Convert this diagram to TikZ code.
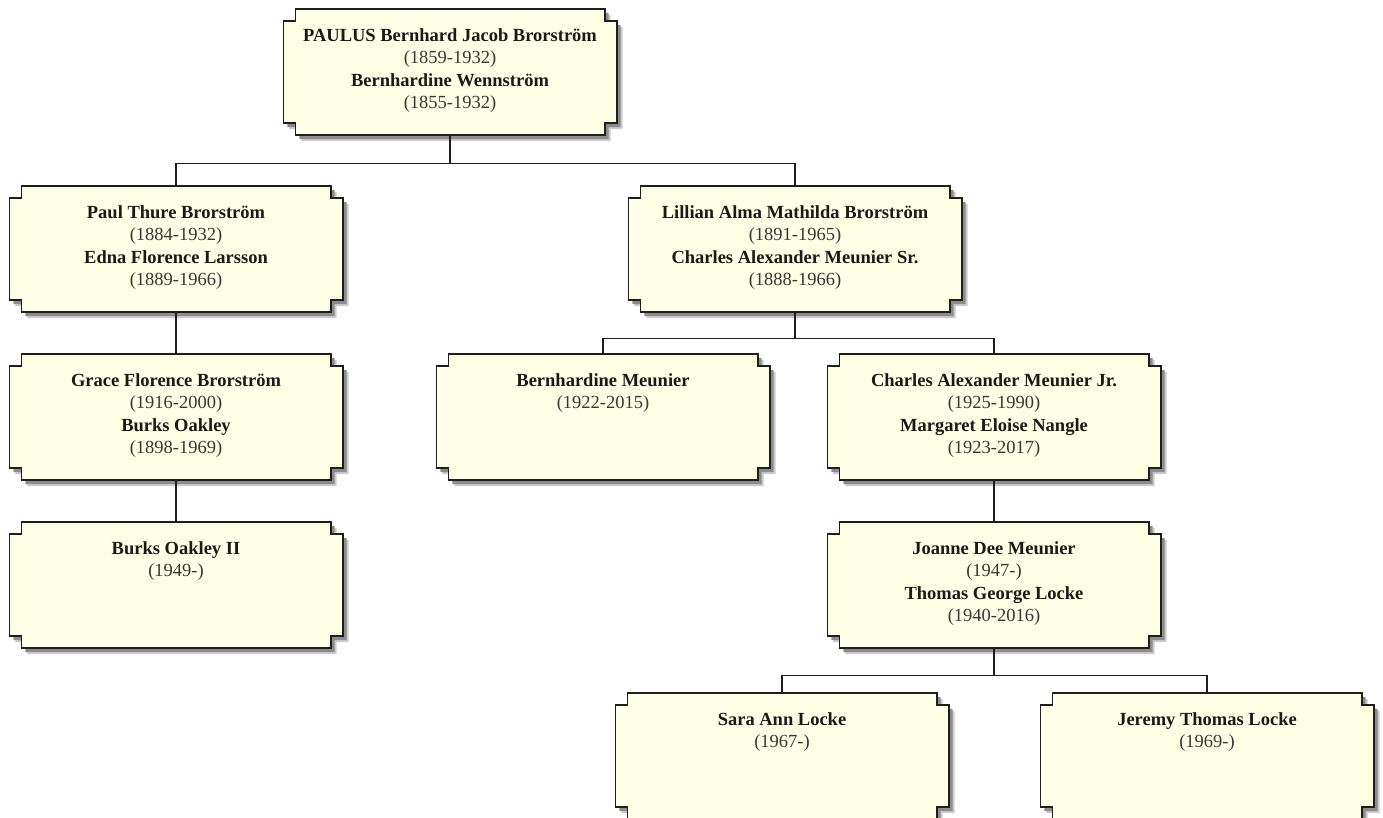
\documentclass[tikz,border=0pt]{standalone}
\usepackage{fontspec}
\setmainfont{Liberation Serif}
\usetikzlibrary{calc,backgrounds}
\definecolor{boxfill}{RGB}{255,255,230}
\definecolor{boxline}{RGB}{30,30,30}
\definecolor{namec}{RGB}{25,25,25}
\definecolor{datec}{RGB}{55,55,55}
\tikzset{
  person/.style={rectangle, inner sep=0pt, minimum width=333pt, minimum height=126pt},
  link/.style={draw=boxline, line width=1.3pt},
}
\newcommand\nm[1]{{\bfseries\color{namec}#1}}
\newcommand\dt[1]{{\color{datec}#1}}
\newcommand\ptext[1]{\parbox[c][126pt][t]{330pt}{\centering\fontsize{18.5}{22.5}\selectfont\rule{0pt}{32pt}#1}}
\newcommand\notchfill[3]{%
  \path[#3] let \p1=(#1.north west), \p2=(#1.south east) in
  ({\x1+12pt+#2},{\y1-#2}) -- ({\x2-12pt+#2},{\y1-#2}) -- ({\x2-12pt+#2},{\y1-12pt-#2}) --
  ({\x2+#2},{\y1-12pt-#2}) -- ({\x2+#2},{\y2+12pt-#2}) -- ({\x2-12pt+#2},{\y2+12pt-#2}) --
  ({\x2-12pt+#2},{\y2-#2}) -- ({\x1+12pt+#2},{\y2-#2}) -- ({\x1+12pt+#2},{\y2+12pt-#2}) --
  ({\x1+#2},{\y2+12pt-#2}) -- ({\x1+#2},{\y1-12pt-#2}) -- ({\x1+12pt+#2},{\y1-12pt-#2}) -- cycle;}
\begin{document}
\begin{tikzpicture}[x=1pt,y=-1pt]
\useasboundingbox (0,0) rectangle (1383,817);
\node[person] (top) at (450,72) {\ptext{\nm{PAULUS Bernhard Jacob Brorström}\\\dt{(1859-1932)}\\\nm{Bernhardine Wennström}\\\dt{(1855-1932)}}};
\node[person] (paul) at (176,249) {\ptext{\nm{Paul Thure Brorström}\\\dt{(1884-1932)}\\\nm{Edna Florence Larsson}\\\dt{(1889-1966)}}};
\node[person] (lil) at (795,249) {\ptext{\nm{Lillian Alma Mathilda Brorström}\\\dt{(1891-1965)}\\\nm{Charles Alexander Meunier Sr.}\\\dt{(1888-1966)}}};
\node[person] (grace) at (176,417) {\ptext{\nm{Grace Florence Brorström}\\\dt{(1916-2000)}\\\nm{Burks Oakley}\\\dt{(1898-1969)}}};
\node[person] (bern) at (603,417) {\ptext{\nm{Bernhardine Meunier}\\\dt{(1922-2015)}}};
\node[person] (cjr) at (994,417) {\ptext{\nm{Charles Alexander Meunier Jr.}\\\dt{(1925-1990)}\\\nm{Margaret Eloise Nangle}\\\dt{(1923-2017)}}};
\node[person] (burks) at (176,585) {\ptext{\nm{Burks Oakley II}\\\dt{(1949-)}}};
\node[person] (joanne) at (994,585) {\ptext{\nm{Joanne Dee Meunier}\\\dt{(1947-)}\\\nm{Thomas George Locke}\\\dt{(1940-2016)}}};
\node[person] (sara) at (782,756) {\ptext{\nm{Sara Ann Locke}\\\dt{(1967-)}}};
\node[person] (jeremy) at (1207,756) {\ptext{\nm{Jeremy Thomas Locke}\\\dt{(1969-)}}};
\begin{pgfonlayer}{background}
  \fill[white] (0,0) rectangle (1383,817);
  \foreach \nd in {top,paul,lil,grace,bern,cjr,burks,joanne,sara,jeremy}{
    \notchfill{\nd}{6pt}{fill=black!20}
    \notchfill{\nd}{4pt}{fill=black!45}
    \notchfill{\nd}{0pt}{fill=boxfill,draw=boxline,line width=1.6pt}
  }
\end{pgfonlayer}
\draw[link] (top.south) -- ++(0,28) -| (paul.north);
\draw[link] (top.south) -- ++(0,28) -| (lil.north);
\draw[link] (paul.south) -- (grace.north);
\draw[link] (lil.south) -- ++(0,26) -| (bern.north);
\draw[link] (lil.south) -- ++(0,26) -| (cjr.north);
\draw[link] (grace.south) -- (burks.north);
\draw[link] (cjr.south) -- (joanne.north);
\draw[link] (joanne.south) -- ++(0,27) -| (sara.north);
\draw[link] (joanne.south) -- ++(0,27) -| (jeremy.north);
\end{tikzpicture}
\end{document}
